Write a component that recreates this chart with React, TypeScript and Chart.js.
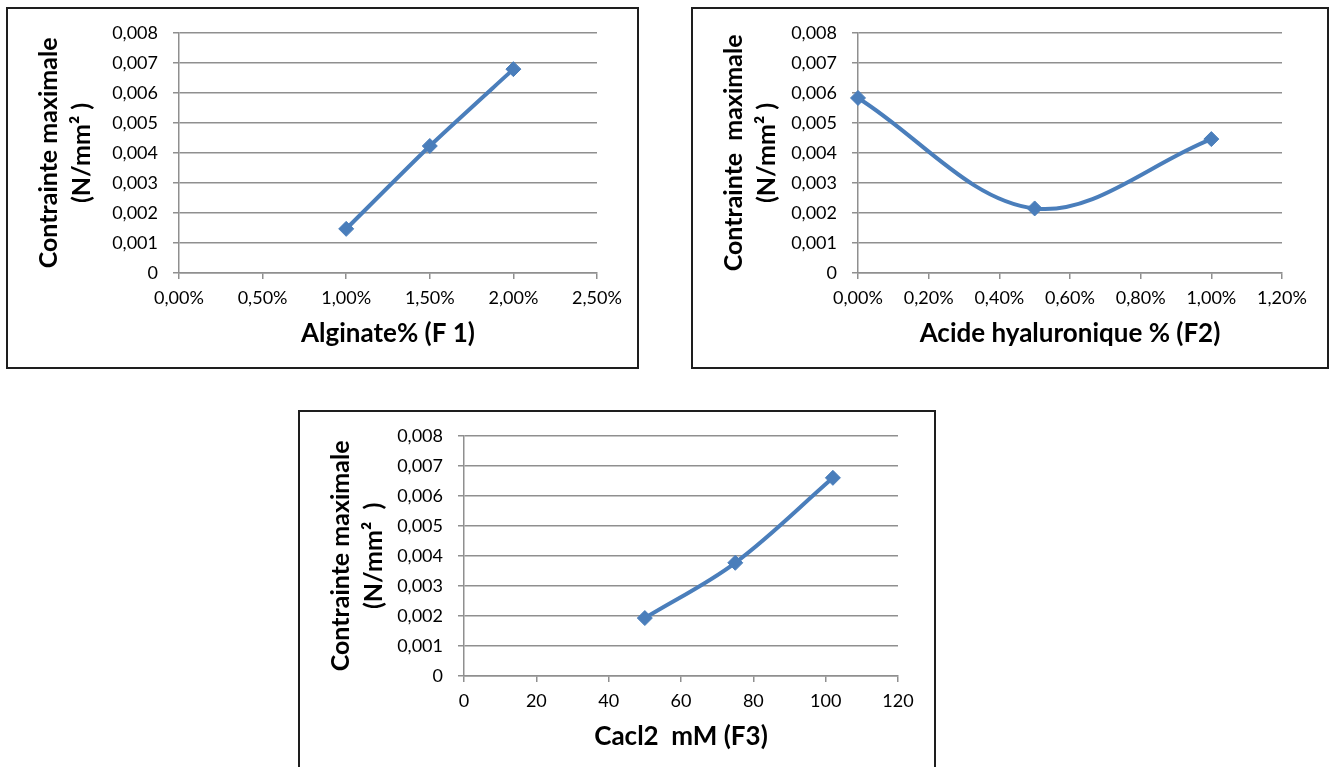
import React, { useEffect, useRef } from 'react';
import { Chart, registerables } from 'chart.js';

Chart.register(...registerables);

// ---- Data ----
const F1_X = [0.01, 0.015, 0.02];
const F1_Y = [0.00147, 0.00423, 0.00679];

const F2_X = [0, 0.005, 0.01];
const F2_Y = [0.00583, 0.00215, 0.00446];

const F3_X = [50, 75, 102];
const F3_Y = [0.00193, 0.00377, 0.0066];

const Y_MAX = 0.008;
const Y_STEP = 0.001;

const X1_MAX = 0.025;
const X1_STEP = 0.005;
const X2_MAX = 0.012;
const X2_STEP = 0.002;
const X3_MAX = 120;
const X3_STEP = 20;

const X1_TITLE = 'Alginate% (F 1)';
const X2_TITLE = 'Acide hyaluronique % (F2)';
const X3_TITLE = 'Cacl2  mM (F3)';

const Y1_TITLE = ['Contrainte maximale', '(N/mm\u00B2 )'];
const Y2_TITLE = ['Contrainte  maximale', '(N/mm\u00B2 )'];
const Y3_TITLE = ['Contrainte maximale', '(N/mm\u00B2  )'];

// ---- Styles ----
const BLUE = '#4a7ebb';
const GRID = '#8f8f8f';
const FONT = 'Lato, "Open Sans", sans-serif';

const fmtY = (v: number) => (Math.abs(v) < 1e-12 ? '0' : Number(v).toFixed(3).replace('.', ','));
const fmtPct = (v: number) => (Number(v) * 100).toFixed(2).replace('.', ',') + '%';
const fmtNum = (v: number) => String(Math.round(Number(v)));

type PanelProps = {
  left: number;
  top: number;
  width: number;
  height: number;
  boxHeight: number;
  yW: number;
  padRight: number;
  xs: number[];
  ys: number[];
  xMax: number;
  xStep: number;
  xFmt: (v: number) => string;
  xTitle: string;
  yTitle: string[];
  tension: number;
};

function Panel(p: PanelProps) {
  const ref = useRef<HTMLCanvasElement>(null);
  useEffect(() => {
    const plotBottom = 266;
    const chart = new Chart(ref.current as HTMLCanvasElement, {
      type: 'scatter',
      data: {
        datasets: [
          {
            data: p.xs.map((x, i) => ({ x, y: p.ys[i] })),
            showLine: true,
            borderColor: BLUE,
            backgroundColor: BLUE,
            borderWidth: 4,
            pointStyle: 'rectRot',
            pointRadius: 7.5,
            pointBorderWidth: 1,
            pointBorderColor: BLUE,
            pointBackgroundColor: BLUE,
            tension: p.tension,
            clip: false,
          } as any,
        ],
      },
      options: {
        responsive: false,
        animation: false,
        devicePixelRatio: 1,
        events: [],
        layout: { padding: { left: 0, top: 22, right: p.padRight, bottom: 0 } },
        plugins: { legend: { display: false }, tooltip: { enabled: false } },
        scales: {
          x: {
            type: 'linear',
            min: 0,
            max: p.xMax,
            ticks: {
              stepSize: p.xStep,
              callback: (v: any) => p.xFmt(v),
              font: { family: FONT, size: 18 },
              color: '#000',
              padding: 8,
              maxRotation: 0,
              autoSkip: false,
            },
            grid: { drawOnChartArea: false, drawTicks: true, tickLength: 6, color: GRID, lineWidth: 1.5 },
            border: { color: GRID, width: 1.5 },
            title: {
              display: true,
              text: p.xTitle,
              font: { family: FONT, size: 26, weight: 'bold', lineHeight: 1.2 },
              color: '#000',
              padding: { top: 0, bottom: 20 },
            },
            afterFit: (s: any) => {
              s.height = p.height - plotBottom;
            },
          },
          y: {
            type: 'linear',
            min: 0,
            max: Y_MAX,
            ticks: {
              stepSize: Y_STEP,
              callback: (v: any) => fmtY(v),
              font: { family: FONT, size: 18 },
              color: '#000',
              padding: 15,
            },
            grid: { drawOnChartArea: true, drawTicks: true, tickLength: 6, color: GRID, lineWidth: 1.5 },
            border: { color: GRID, width: 1.5 },
            title: {
              display: true,
              text: p.yTitle,
              font: { family: FONT, size: 25, weight: 'bold', lineHeight: 1.3 },
              color: '#000',
              padding: { top: 27, bottom: 0 },
            },
            afterFit: (s: any) => {
              s.width = p.yW;
            },
          },
        },
      } as any,
    });
    return () => chart.destroy();
  }, []);

  return (
    <div style={{ position: 'absolute', left: p.left, top: p.top, width: p.width, height: p.boxHeight }}>
      <canvas
        ref={ref}
        width={p.width}
        height={p.height}
        style={{ position: 'absolute', left: 0, top: 0, width: p.width, height: p.height, display: 'block' }}
      />
      <div
        style={{
          position: 'absolute',
          left: 0,
          top: 0,
          width: p.width,
          height: p.boxHeight,
          boxSizing: 'border-box',
          border: '2px solid #1e1e1e',
          pointerEvents: 'none',
        }}
      />
    </div>
  );
}

export default function App() {
  return (
    <div
      style={{
        position: 'absolute',
        left: 0,
        top: 0,
        width: 1335,
        height: 767,
        overflow: 'hidden',
        background: '#fff',
      }}
    >
      <Panel
        left={6}
        top={7}
        width={633}
        height={362}
        boxHeight={362}
        yW={173}
        padRight={42}
        xs={F1_X}
        ys={F1_Y}
        xMax={X1_MAX}
        xStep={X1_STEP}
        xFmt={fmtPct}
        xTitle={X1_TITLE}
        yTitle={Y1_TITLE}
        tension={0.2}
      />
      <Panel
        left={691}
        top={7}
        width={638}
        height={362}
        boxHeight={362}
        yW={167}
        padRight={47}
        xs={F2_X}
        ys={F2_Y}
        xMax={X2_MAX}
        xStep={X2_STEP}
        xFmt={fmtPct}
        xTitle={X2_TITLE}
        yTitle={Y2_TITLE}
        tension={0.35}
      />
      <Panel
        left={298}
        top={410}
        width={638}
        height={362}
        boxHeight={375}
        yW={166}
        padRight={38}
        xs={F3_X}
        ys={F3_Y}
        xMax={X3_MAX}
        xStep={X3_STEP}
        xFmt={fmtNum}
        xTitle={X3_TITLE}
        yTitle={Y3_TITLE}
        tension={0.35}
      />
    </div>
  );
}
